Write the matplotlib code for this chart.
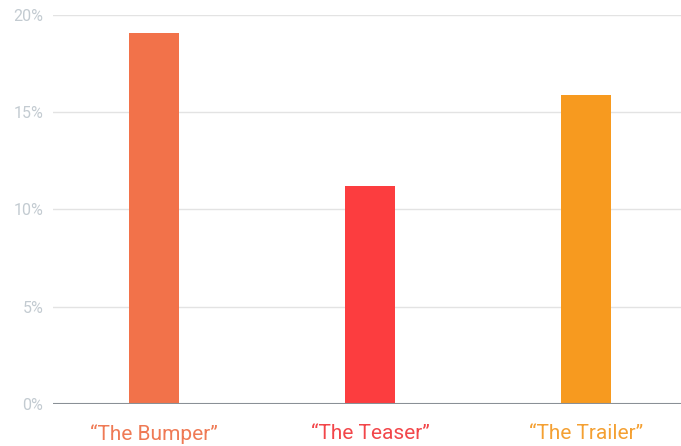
import matplotlib
matplotlib.use("Agg")
import matplotlib.pyplot as plt
from matplotlib.ticker import FuncFormatter

plt.rcParams['font.family'] = ['Roboto', 'DejaVu Sans']

campaigns = ['\u201cThe Bumper\u201d', '\u201cThe Teaser\u201d', '\u201cThe Trailer\u201d']
shares = [19.1, 11.2, 15.9]
colors = ['#F2724A', '#FC3D3F', '#F79A1F']
label_colors = ['#EF7A55', '#F2464A', '#F4A032']
yticks = [0, 5, 10, 15, 20]

fig = plt.figure(figsize=(6.81, 4.46), dpi=100)
ax = fig.add_axes([53 / 681, 1 - 404 / 446, 1 - 53 / 681, (404 - 15) / 446])

x = range(len(campaigns))
ax.bar(x, shares, width=0.231, color=colors, zorder=3)

ax.set_ylim(0, 20)
ax.set_xlim(-0.468, 2.44)
ax.set_yticks(yticks)
ax.yaxis.set_major_formatter(FuncFormatter(lambda v, p: f'{v:.0f}%'))
ax.grid(axis='y', color='#E3E3E3', linewidth=1, zorder=0)
ax.axhline(0, color='#8A9096', linewidth=1.5, zorder=4)

for s in ax.spines.values():
    s.set_visible(False)
ax.tick_params(axis='y', length=0, pad=7, labelsize=11.5, labelcolor='#C3CBD1')
ax.set_xticks(list(x))
ax.set_xticklabels(campaigns, fontsize=15)
ax.tick_params(axis='x', length=0, pad=14.5)
for lbl, c in zip(ax.get_xticklabels(), label_colors):
    lbl.set_color(c)

fig.savefig('out.png', dpi=100)
